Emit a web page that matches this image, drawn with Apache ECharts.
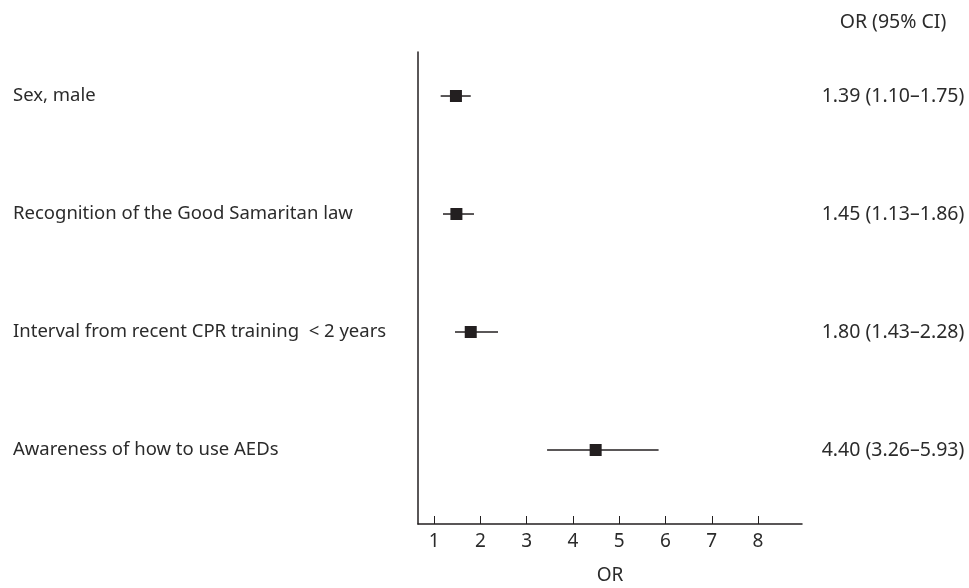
<!DOCTYPE html>
<html>
<head>
<meta charset="utf-8">
<script src="https://cdn.jsdelivr.net/npm/echarts@6/dist/echarts.min.js"></script>
<style>
  html, body { margin: 0; padding: 0; background: #fff; }
  #main { width: 969px; height: 588px; }
</style>
</head>
<body>
<div id="main"></div>
<script>
// rows, top to bottom
var labels = ['Sex, male', 'Recognition of the Good Samaritan law',
  'Interval from recent CPR training  < 2 years', 'Awareness of how to use AEDs'];
var orText = ['1.39 (1.10\u20131.75)', '1.45 (1.13\u20131.86)', '1.80 (1.43\u20132.28)', '4.40 (3.26\u20135.93)'];
// positions as drawn in the figure
var orVal = [1.47, 1.48, 1.79, 4.49];
var lower = [1.14, 1.19, 1.45, 3.44];
var upper = [1.79, 1.86, 2.38, 5.85];
var xTicks = [1, 2, 3, 4, 5, 6, 7, 8];

var rowPos = labels.map(function (l, i) { return i + 1; });
var ink = '#231f20';
var txt = '#2b2b2b';
var font = 'Noto Sans';

var dom = document.getElementById('main');
var myChart = echarts.init(dom);

var option = {
  animation: false,
  textStyle: { fontFamily: font, color: txt },
  title: {
    text: 'OR (95% CI)',
    left: 888, top: 7,
    textAlign: 'center',
    textStyle: { fontFamily: font, fontSize: 19.5, fontWeight: 'normal', color: txt }
  },
  grid: { left: 418, right: 167, top: 52, bottom: 64, outerBoundsMode: 'none', containLabel: false },
  xAxis: {
    type: 'value',
    min: 0.65, max: 8.95,
    name: 'OR',
    nameLocation: 'middle',
    nameGap: 42,
    nameTextStyle: { fontSize: 19, color: txt },
    axisLine: { show: true, lineStyle: { color: ink, width: 1.5 } },
    axisTick: { show: true, inside: true, length: 8, customValues: xTicks, lineStyle: { color: ink } },
    axisLabel: { customValues: xTicks, fontSize: 19, color: txt, margin: 8 },
    splitLine: { show: false }
  },
  yAxis: [
    {
      type: 'value',
      inverse: true,
      min: 0.627, max: 4.627,
      axisLine: { show: true, lineStyle: { color: ink, width: 1.5 } },
      axisTick: { show: false },
      splitLine: { show: false },
      axisLabel: {
        customValues: rowPos,
        align: 'left',
        margin: 405,
        fontSize: 18.5,
        color: txt,
        formatter: function (v) { return labels[Math.round(v) - 1]; }
      }
    },
    {
      type: 'value',
      inverse: true,
      position: 'right',
      min: 0.627, max: 4.627,
      axisLine: { show: false },
      axisTick: { show: false },
      splitLine: { show: false },
      axisLabel: {
        customValues: rowPos,
        align: 'center',
        margin: 91,
        fontSize: 19.5,
        color: txt,
        formatter: function (v) { return orText[Math.round(v) - 1]; }
      }
    }
  ],
  series: [
    {
      type: 'custom',
      renderItem: function (params, api) {
        var a = api.coord([api.value(0), api.value(2)]);
        var b = api.coord([api.value(1), api.value(2)]);
        return {
          type: 'line',
          shape: { x1: a[0], y1: a[1], x2: b[0], y2: b[1] },
          style: { stroke: ink, lineWidth: 1.5 }
        };
      },
      data: rowPos.map(function (y, i) { return [lower[i], upper[i], y]; }),
      z: 2
    },
    {
      type: 'scatter',
      symbol: 'rect',
      symbolSize: 12,
      itemStyle: { color: ink, opacity: 1 },
      data: rowPos.map(function (y, i) { return [orVal[i], y]; }),
      z: 3
    }
  ]
};

if (option && typeof option === 'object') {
  myChart.setOption(option, true);
}
</script>
</body>
</html>
